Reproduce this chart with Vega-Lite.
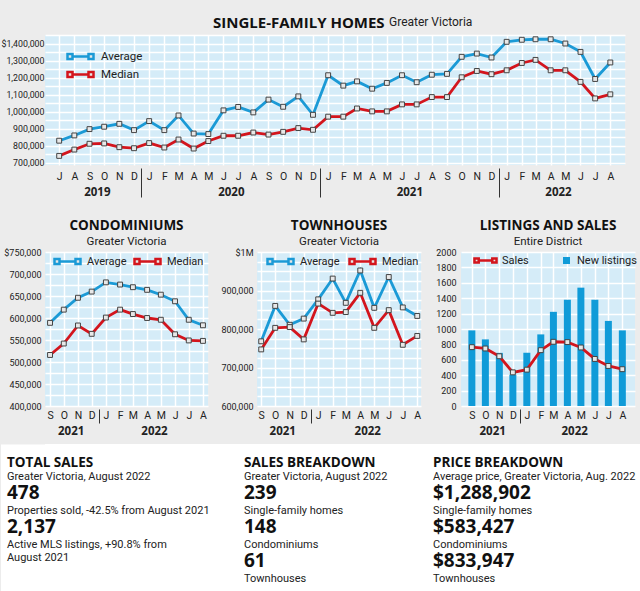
{
  "$schema": "https://vega.github.io/schema/vega-lite/v6.json",
  "background": "#ececec",
  "padding": {"top": 16, "left": 0, "right": 0, "bottom": 0},
  "config": {
    "font": "Roboto",
    "view": {"stroke": null, "fill": "#d5ecf8"},
    "axis": {"gridColor": "#ffffff", "gridWidth": 1.5, "gridOpacity": 1, "labelColor": "#222222", "labelFont": "Roboto", "labelOverlap": false},
    "legend": {"labelFont": "Roboto", "labelColor": "#222222"},
    "title": {"color": "#111111"}
  },
  "datasets": {
    "sf": [
      {"month": "2019-07-01", "Average": 830000, "Median": 741000},
      {"month": "2019-08-01", "Average": 861000, "Median": 778000},
      {"month": "2019-09-01", "Average": 898000, "Median": 812000},
      {"month": "2019-10-01", "Average": 912000, "Median": 814000},
      {"month": "2019-11-01", "Average": 929000, "Median": 792000},
      {"month": "2019-12-01", "Average": 892000, "Median": 786000},
      {"month": "2020-01-01", "Average": 945000, "Median": 816000},
      {"month": "2020-02-01", "Average": 892000, "Median": 790000},
      {"month": "2020-03-01", "Average": 978000, "Median": 837000},
      {"month": "2020-04-01", "Average": 872000, "Median": 784000},
      {"month": "2020-05-01", "Average": 869000, "Median": 828000},
      {"month": "2020-06-01", "Average": 1008000, "Median": 859000},
      {"month": "2020-07-01", "Average": 1028000, "Median": 859000},
      {"month": "2020-08-01", "Average": 996000, "Median": 878000},
      {"month": "2020-09-01", "Average": 1071000, "Median": 866000},
      {"month": "2020-10-01", "Average": 1029000, "Median": 882000},
      {"month": "2020-11-01", "Average": 1090000, "Median": 904000},
      {"month": "2020-12-01", "Average": 982000, "Median": 894000},
      {"month": "2021-01-01", "Average": 1214000, "Median": 971000},
      {"month": "2021-02-01", "Average": 1153000, "Median": 971000},
      {"month": "2021-03-01", "Average": 1178000, "Median": 1019000},
      {"month": "2021-04-01", "Average": 1135000, "Median": 1002000},
      {"month": "2021-05-01", "Average": 1169000, "Median": 1002000},
      {"month": "2021-06-01", "Average": 1214000, "Median": 1043000},
      {"month": "2021-07-01", "Average": 1173000, "Median": 1043000},
      {"month": "2021-08-01", "Average": 1217000, "Median": 1086000},
      {"month": "2021-09-01", "Average": 1222000, "Median": 1086000},
      {"month": "2021-10-01", "Average": 1322000, "Median": 1202000},
      {"month": "2021-11-01", "Average": 1341000, "Median": 1239000},
      {"month": "2021-12-01", "Average": 1318000, "Median": 1220000},
      {"month": "2022-01-01", "Average": 1410000, "Median": 1243000},
      {"month": "2022-02-01", "Average": 1422000, "Median": 1286000},
      {"month": "2022-03-01", "Average": 1425000, "Median": 1304000},
      {"month": "2022-04-01", "Average": 1425000, "Median": 1243000},
      {"month": "2022-05-01", "Average": 1400000, "Median": 1243000},
      {"month": "2022-06-01", "Average": 1351000, "Median": 1175000},
      {"month": "2022-07-01", "Average": 1192000, "Median": 1078000},
      {"month": "2022-08-01", "Average": 1288902, "Median": 1102000}
    ],
    "condo": [
      {"month": "2021-09-01", "Average": 589000, "Median": 516000},
      {"month": "2021-10-01", "Average": 619000, "Median": 542000},
      {"month": "2021-11-01", "Average": 646000, "Median": 583000},
      {"month": "2021-12-01", "Average": 660000, "Median": 564000},
      {"month": "2022-01-01", "Average": 681000, "Median": 601000},
      {"month": "2022-02-01", "Average": 676000, "Median": 619000},
      {"month": "2022-03-01", "Average": 670000, "Median": 609000},
      {"month": "2022-04-01", "Average": 664000, "Median": 600000},
      {"month": "2022-05-01", "Average": 653000, "Median": 596000},
      {"month": "2022-06-01", "Average": 638000, "Median": 563000},
      {"month": "2022-07-01", "Average": 596000, "Median": 549000},
      {"month": "2022-08-01", "Average": 583427, "Median": 548000}
    ],
    "town": [
      {"month": "2021-09-01", "Average": 768000, "Median": 747000},
      {"month": "2021-10-01", "Average": 860000, "Median": 803000},
      {"month": "2021-11-01", "Average": 811000, "Median": 805000},
      {"month": "2021-12-01", "Average": 827000, "Median": 773000},
      {"month": "2022-01-01", "Average": 877000, "Median": 866000},
      {"month": "2022-02-01", "Average": 931000, "Median": 842000},
      {"month": "2022-03-01", "Average": 868000, "Median": 844000},
      {"month": "2022-04-01", "Average": 952000, "Median": 894000},
      {"month": "2022-05-01", "Average": 855000, "Median": 803000},
      {"month": "2022-06-01", "Average": 935000, "Median": 849000},
      {"month": "2022-07-01", "Average": 856000, "Median": 759000},
      {"month": "2022-08-01", "Average": 833947, "Median": 782000}
    ],
    "listings": [
      {"month": "2021-09-01", "new_listings": 982, "sales": 764},
      {"month": "2021-10-01", "new_listings": 865, "sales": 747},
      {"month": "2021-11-01", "new_listings": 690, "sales": 646},
      {"month": "2021-12-01", "new_listings": 406, "sales": 437},
      {"month": "2022-01-01", "new_listings": 690, "sales": 472},
      {"month": "2022-02-01", "new_listings": 930, "sales": 725},
      {"month": "2022-03-01", "new_listings": 1223, "sales": 834},
      {"month": "2022-04-01", "new_listings": 1380, "sales": 830},
      {"month": "2022-05-01", "new_listings": 1537, "sales": 760},
      {"month": "2022-06-01", "new_listings": 1380, "sales": 611},
      {"month": "2022-07-01", "new_listings": 1105, "sales": 520},
      {"month": "2022-08-01", "new_listings": 982, "sales": 478}
    ],
    "facts": [
      {"panel": "total", "line": 1, "kind": "heading", "text": "TOTAL SALES"},
      {"panel": "total", "line": 2, "kind": "label", "text": "Greater Victoria, August 2022"},
      {"panel": "total", "line": 3, "kind": "figure", "text": "478"},
      {"panel": "total", "line": 4, "kind": "label", "text": "Properties sold, -42.5% from August 2021"},
      {"panel": "total", "line": 5, "kind": "figure", "text": "2,137"},
      {"panel": "total", "line": 6, "kind": "label", "text": "Active MLS listings, +90.8% from\nAugust 2021"},
      {"panel": "breakdown", "line": 1, "kind": "heading", "text": "SALES BREAKDOWN"},
      {"panel": "breakdown", "line": 2, "kind": "label", "text": "Greater Victoria, August 2022"},
      {"panel": "breakdown", "line": 3, "kind": "figure", "text": "239"},
      {"panel": "breakdown", "line": 4, "kind": "label", "text": "Single-family homes"},
      {"panel": "breakdown", "line": 5, "kind": "figure", "text": "148"},
      {"panel": "breakdown", "line": 6, "kind": "label", "text": "Condominiums"},
      {"panel": "breakdown", "line": 7, "kind": "figure", "text": "61"},
      {"panel": "breakdown", "line": 8, "kind": "label", "text": "Townhouses"},
      {"panel": "price", "line": 1, "kind": "heading", "text": "PRICE BREAKDOWN"},
      {"panel": "price", "line": 2, "kind": "label", "text": "Average price, Greater Victoria, Aug. 2022"},
      {"panel": "price", "line": 3, "kind": "figure", "text": "$1,288,902"},
      {"panel": "price", "line": 4, "kind": "label", "text": "Single-family homes"},
      {"panel": "price", "line": 5, "kind": "figure", "text": "$583,427"},
      {"panel": "price", "line": 6, "kind": "label", "text": "Condominiums"},
      {"panel": "price", "line": 7, "kind": "figure", "text": "$833,947"},
      {"panel": "price", "line": 8, "kind": "label", "text": "Townhouses"}
    ]
  },
  "resolve": {"scale": {"color": "independent", "fill": "independent", "stroke": "independent"}, "legend": {"color": "independent", "fill": "independent", "stroke": "independent"}},
  "spacing": 7,
  "vconcat": [
    {
      "title": {"text": "Greater Victoria", "anchor": "start", "frame": "bounds", "dx": 389, "dy": 13, "offset": 0, "baseline": "top", "font": "Roboto", "fontSize": 12, "fontWeight": "normal", "color": "#222222"},
      "spacing": 21,
      "resolve": {"scale": {"color": "independent", "fill": "independent", "stroke": "independent"}, "legend": {"color": "independent", "fill": "independent", "stroke": "independent"}},
      "vconcat": [
        {
          "width": 580,
          "height": 130,
          "data": {"name": "sf"},
          "transform": [{"fold": ["Average", "Median"], "as": ["series", "price"]}],
          "title": {"text": "SINGLE-FAMILY HOMES", "anchor": "start", "frame": "group", "dx": 168, "font": "Open Sans", "fontSize": 15, "fontWeight": "bold", "baseline": "top", "offset": 0},
          "encoding": {
            "y": {
              "field": "price", "type": "quantitative",
              "scale": {"domain": [687500, 1450000], "nice": false, "zero": false},
              "axis": {
                "title": null,
                "values": [700000, 750000, 800000, 850000, 900000, 950000, 1000000, 1050000, 1100000, 1150000, 1200000, 1250000, 1300000, 1350000, 1400000, 1450000],
                "labelExpr": "datum.value % 100000 != 0 ? '' : (datum.value == 1400000 ? '$1,400,000' : format(datum.value, ','))",
                "minExtent": 45, "maxExtent": 45, "ticks": false, "domain": false, "labelPadding": 1, "labelFontSize": 8.8, "labelOverlap": false
              }
            }
          },
          "layer": [
            {
              "mark": {"type": "line", "strokeWidth": 2.8},
              "encoding": {
                "x": {
                  "field": "month", "type": "temporal",
                  "scale": {"type": "utc", "domain": [{"year": 2019, "month": 6, "date": 2, "utc": true}, {"year": 2022, "month": 8, "date": 31, "utc": true}]},
                  "axis": {"orient": "bottom", "title": null, "tickCount": {"interval": "month", "step": 1}, "labelExpr": "substring(utcFormat(datum.value, '%b'), 0, 1)", "ticks": false, "domain": false, "grid": true, "labelPadding": 6, "labelFontSize": 10.5, "labelFlush": false, "labelOverlap": false, "labelBound": false}
                },
                "color": {
                  "field": "series", "type": "nominal",
                  "scale": {"domain": ["Average", "Median"], "range": ["#1b9ad6", "#d3151d"]},
                  "legend": {
                    "title": null, "orient": "none", "legendX": 29, "legendY": 15, "direction": "vertical", "padding": 0,
                    "symbolType": "M-1.6,0H1.6M-2.6,-0.5H-1.6V0.5H-2.6ZM1.6,-0.5H2.6V0.5H1.6Z",
                    "symbolSize": 100, "symbolStrokeWidth": 2.5, "symbolFillColor": "#e6e6e6", "labelOffset": 14, "labelFontSize": 11.5, "rowPadding": 3,
                    "encode": {"symbols": {"update": {"fill": {"value": "#e6e6e6"}}}}
                  }
                }
              }
            },
            {
              "mark": {"type": "point", "shape": "square", "size": 24, "filled": true, "fill": "#e8e8e8", "stroke": "#444444", "strokeWidth": 1, "opacity": 1},
              "encoding": {
                "x": {
                  "field": "month", "type": "temporal",
                  "scale": {"type": "utc", "domain": [{"year": 2019, "month": 6, "date": 2, "utc": true}, {"year": 2022, "month": 8, "date": 31, "utc": true}]},
                  "axis": {
                    "orient": "bottom", "title": null,
                    "values": [{"year": 2019, "month": 9, "date": 16, "utc": true}, {"year": 2019, "month": 12, "date": 16, "utc": true}, {"year": 2020, "month": 6, "date": 16, "utc": true}, {"year": 2020, "month": 12, "date": 16, "utc": true}, {"year": 2021, "month": 6, "date": 16, "utc": true}, {"year": 2021, "month": 12, "date": 16, "utc": true}, {"year": 2022, "month": 4, "date": 16, "utc": true}],
                    "labelExpr": "utcFormat(datum.value, '%m') == '12' ? '' : utcFormat(datum.value, '%Y')",
                    "grid": false, "domain": false, "offset": 3, "tickSize": 29, "tickColor": "#333333", "tickWidth": 1,
                    "tickOpacity": {"condition": {"test": "utcFormat(datum.value, '%m') == '12'", "value": 1}, "value": 0},
                    "labelPadding": -11, "labelFont": "Open Sans", "labelFontWeight": "bold", "labelFontSize": 11.5, "labelOverlap": false, "labelFlush": false
                  }
                }
              }
            }
          ],
          "resolve": {"axis": {"x": "independent"}}
        },
        {
          "spacing": 8,
          "resolve": {"scale": {"color": "independent", "fill": "independent", "stroke": "independent"}, "legend": {"color": "independent", "fill": "independent", "stroke": "independent"}},
          "hconcat": [
            {
              "width": 163,
              "height": 154,
              "data": {"name": "condo"},
              "transform": [{"fold": ["Average", "Median"], "as": ["series", "price"]}],
              "title": {"text": "CONDOMINIUMS", "subtitle": "Greater Victoria", "anchor": "middle", "frame": "group", "font": "Open Sans", "fontSize": 13.5, "fontWeight": "bold", "subtitleFont": "Roboto", "subtitleFontSize": 11.5, "subtitleColor": "#222222", "subtitlePadding": 3, "offset": 1, "baseline": "top"},
              "encoding": {
                "y": {
                  "field": "price", "type": "quantitative",
                  "scale": {"domain": [400000, 750000], "nice": false, "zero": false},
                  "axis": {"title": null, "values": [400000, 425000, 450000, 475000, 500000, 525000, 550000, 575000, 600000, 625000, 650000, 675000, 700000, 725000, 750000], "labelExpr": "datum.value % 50000 != 0 ? '' : (datum.value == 750000 ? '$750,000' : format(datum.value, ','))", "minExtent": 45, "maxExtent": 45, "ticks": false, "domain": false, "labelPadding": 4, "labelFontSize": 9, "labelOverlap": false}
                }
              },
              "layer": [
                {
                  "mark": {"type": "line", "strokeWidth": 2.8},
                  "encoding": {
                    "x": {
                      "field": "month", "type": "temporal",
                      "scale": {"type": "utc", "domain": [{"year": 2021, "month": 8, "date": 21, "utc": true}, {"year": 2022, "month": 8, "date": 12, "utc": true}]},
                      "axis": {"orient": "bottom", "title": null, "tickCount": {"interval": "month", "step": 1}, "labelExpr": "substring(utcFormat(datum.value, '%b'), 0, 1)", "ticks": false, "domain": false, "grid": true, "labelPadding": 4, "labelFontSize": 10.5, "labelFlush": false, "labelOverlap": false, "labelBound": false}
                    },
                    "color": {
                      "field": "series", "type": "nominal",
                      "scale": {"domain": ["Average", "Median"], "range": ["#1b9ad6", "#d3151d"]},
                      "legend": {
                        "title": null, "orient": "none", "legendX": 16, "legendY": 3, "direction": "horizontal", "padding": 0, "columnPadding": 2,
                        "symbolType": "M-1.6,0H1.6M-2.6,-0.5H-1.6V0.5H-2.6ZM1.6,-0.5H2.6V0.5H1.6Z",
                        "symbolSize": 100, "symbolStrokeWidth": 2.5, "symbolFillColor": "#e6e6e6", "labelOffset": 13, "labelFontSize": 11,
                        "encode": {"symbols": {"update": {"fill": {"value": "#e6e6e6"}}}}
                      }
                    }
                  }
                },
                {
                  "mark": {"type": "point", "shape": "square", "size": 24, "filled": true, "fill": "#e8e8e8", "stroke": "#444444", "strokeWidth": 1, "opacity": 1},
                  "encoding": {
                    "x": {
                      "field": "month", "type": "temporal",
                      "scale": {"type": "utc", "domain": [{"year": 2021, "month": 8, "date": 21, "utc": true}, {"year": 2022, "month": 8, "date": 12, "utc": true}]},
                      "axis": {"orient": "bottom", "title": null, "values": [{"year": 2021, "month": 10, "date": 16, "utc": true}, {"year": 2021, "month": 12, "date": 16, "utc": true}, {"year": 2022, "month": 4, "date": 16, "utc": true}], "labelExpr": "utcFormat(datum.value, '%m') == '12' ? '' : utcFormat(datum.value, '%Y')", "grid": false, "domain": false, "offset": 3, "tickSize": 14, "tickColor": "#333333", "tickOpacity": {"condition": {"test": "utcFormat(datum.value, '%m') == '12'", "value": 1}, "value": 0}, "labelPadding": 2, "labelFont": "Open Sans", "labelFontWeight": "bold", "labelFontSize": 11.5, "labelOverlap": false, "labelFlush": false}
                    }
                  }
                }
              ],
              "resolve": {"axis": {"x": "independent"}}
            },
            {
              "width": 164,
              "height": 154,
              "data": {"name": "town"},
              "transform": [{"fold": ["Average", "Median"], "as": ["series", "price"]}],
              "title": {"text": "TOWNHOUSES", "subtitle": "Greater Victoria", "anchor": "middle", "frame": "group", "font": "Open Sans", "fontSize": 13.5, "fontWeight": "bold", "subtitleFont": "Roboto", "subtitleFontSize": 11.5, "subtitleColor": "#222222", "subtitlePadding": 3, "offset": 1, "baseline": "top"},
              "encoding": {
                "y": {
                  "field": "price", "type": "quantitative",
                  "scale": {"domain": [600000, 1000000], "nice": false, "zero": false},
                  "axis": {"title": null, "values": [600000, 625000, 650000, 675000, 700000, 725000, 750000, 775000, 800000, 825000, 850000, 875000, 900000, 925000, 950000, 975000, 1000000], "labelExpr": "datum.value % 100000 != 0 ? '' : (datum.value == 1000000 ? '$1M' : format(datum.value, ','))", "minExtent": 40, "maxExtent": 40, "ticks": false, "domain": false, "labelPadding": 4, "labelFontSize": 9, "labelOverlap": false}
                }
              },
              "layer": [
                {
                  "mark": {"type": "line", "strokeWidth": 2.8},
                  "encoding": {
                    "x": {
                      "field": "month", "type": "temporal",
                      "scale": {"type": "utc", "domain": [{"year": 2021, "month": 8, "date": 23, "utc": true}, {"year": 2022, "month": 8, "date": 9, "utc": true}]},
                      "axis": {"orient": "bottom", "title": null, "tickCount": {"interval": "month", "step": 1}, "labelExpr": "substring(utcFormat(datum.value, '%b'), 0, 1)", "ticks": false, "domain": false, "grid": true, "labelPadding": 4, "labelFontSize": 10.5, "labelFlush": false, "labelOverlap": false, "labelBound": false}
                    },
                    "color": {
                      "field": "series", "type": "nominal",
                      "scale": {"domain": ["Average", "Median"], "range": ["#1b9ad6", "#d3151d"]},
                      "legend": {
                        "title": null, "orient": "none", "legendX": 17, "legendY": 3, "direction": "horizontal", "padding": 0, "columnPadding": 4,
                        "symbolType": "M-1.6,0H1.6M-2.6,-0.5H-1.6V0.5H-2.6ZM1.6,-0.5H2.6V0.5H1.6Z",
                        "symbolSize": 100, "symbolStrokeWidth": 2.5, "symbolFillColor": "#e6e6e6", "labelOffset": 13, "labelFontSize": 11,
                        "encode": {"symbols": {"update": {"fill": {"value": "#e6e6e6"}}}}
                      }
                    }
                  }
                },
                {
                  "mark": {"type": "point", "shape": "square", "size": 24, "filled": true, "fill": "#e8e8e8", "stroke": "#444444", "strokeWidth": 1, "opacity": 1},
                  "encoding": {
                    "x": {
                      "field": "month", "type": "temporal",
                      "scale": {"type": "utc", "domain": [{"year": 2021, "month": 8, "date": 23, "utc": true}, {"year": 2022, "month": 8, "date": 9, "utc": true}]},
                      "axis": {"orient": "bottom", "title": null, "values": [{"year": 2021, "month": 10, "date": 16, "utc": true}, {"year": 2021, "month": 12, "date": 16, "utc": true}, {"year": 2022, "month": 4, "date": 16, "utc": true}], "labelExpr": "utcFormat(datum.value, '%m') == '12' ? '' : utcFormat(datum.value, '%Y')", "grid": false, "domain": false, "offset": 3, "tickSize": 14, "tickColor": "#333333", "tickOpacity": {"condition": {"test": "utcFormat(datum.value, '%m') == '12'", "value": 1}, "value": 0}, "labelPadding": 2, "labelFont": "Open Sans", "labelFontWeight": "bold", "labelFontSize": 11.5, "labelOverlap": false, "labelFlush": false}
                    }
                  }
                }
              ],
              "resolve": {"axis": {"x": "independent"}}
            },
            {
              "width": 174,
              "height": 154,
              "data": {"name": "listings"},
              "title": {"text": "LISTINGS AND SALES", "subtitle": "Entire District", "anchor": "middle", "frame": "group", "font": "Open Sans", "fontSize": 13.5, "fontWeight": "bold", "subtitleFont": "Roboto", "subtitleFontSize": 11.5, "subtitleColor": "#222222", "subtitlePadding": 3, "offset": 1, "baseline": "top"},
              "layer": [
                {
                  "mark": {"type": "bar", "size": 7},
                  "encoding": {
                    "x": {
                      "field": "month", "type": "temporal",
                      "scale": {"type": "utc", "domain": [{"year": 2021, "month": 8, "date": 19, "utc": true}, {"year": 2022, "month": 8, "date": 18, "utc": true}]},
                      "axis": {"orient": "bottom", "title": null, "tickCount": {"interval": "month", "step": 1}, "labelExpr": "substring(utcFormat(datum.value, '%b'), 0, 1)", "ticks": false, "domain": false, "grid": true, "labelPadding": 4, "labelFontSize": 10.5, "labelFlush": false, "labelOverlap": false, "labelBound": false}
                    },
                    "y": {
                      "field": "new_listings", "type": "quantitative",
                      "scale": {"domain": [0, 2000], "nice": false},
                      "axis": {"title": null, "values": [0, 200, 400, 600, 800, 1000, 1200, 1400, 1600, 1800, 2000], "format": "d", "minExtent": 30, "maxExtent": 30, "ticks": false, "domain": false, "labelPadding": 5, "labelFontSize": 9, "labelOverlap": false}
                    },
                    "fill": {
                      "datum": "New listings", "type": "nominal",
                      "scale": {"range": ["#109bd8"]},
                      "legend": {"title": null, "orient": "none", "legendX": 100, "legendY": 3, "padding": 0, "symbolType": "square", "symbolSize": 49, "labelOffset": 5, "labelFontSize": 11}
                    }
                  }
                },
                {
                  "mark": {"type": "line", "strokeWidth": 2.8},
                  "encoding": {
                    "x": {
                      "field": "month", "type": "temporal",
                      "scale": {"type": "utc", "domain": [{"year": 2021, "month": 8, "date": 19, "utc": true}, {"year": 2022, "month": 8, "date": 18, "utc": true}]},
                      "axis": {"orient": "bottom", "title": null, "values": [{"year": 2021, "month": 10, "date": 16, "utc": true}, {"year": 2021, "month": 12, "date": 16, "utc": true}, {"year": 2022, "month": 4, "date": 16, "utc": true}], "labelExpr": "utcFormat(datum.value, '%m') == '12' ? '' : utcFormat(datum.value, '%Y')", "grid": false, "domain": false, "offset": 3, "tickSize": 14, "tickColor": "#333333", "tickOpacity": {"condition": {"test": "utcFormat(datum.value, '%m') == '12'", "value": 1}, "value": 0}, "labelPadding": 2, "labelFont": "Open Sans", "labelFontWeight": "bold", "labelFontSize": 11.5, "labelOverlap": false, "labelFlush": false}
                    },
                    "y": {
                      "field": "sales", "type": "quantitative",
                      "scale": {"domain": [0, 2000], "nice": false},
                      "axis": null
                    },
                    "stroke": {
                      "datum": "Sales", "type": "nominal",
                      "scale": {"range": ["#d3151d"]},
                      "legend": {
                        "title": null, "orient": "none", "legendX": 19, "legendY": 3, "padding": 0,
                        "symbolType": "M-1.6,0H1.6M-2.6,-0.5H-1.6V0.5H-2.6ZM1.6,-0.5H2.6V0.5H1.6Z",
                        "symbolSize": 72, "symbolStrokeWidth": 2.5, "symbolFillColor": "#e6e6e6", "labelOffset": 11, "labelFontSize": 11,
                        "encode": {"symbols": {"update": {"fill": {"value": "#e6e6e6"}}}}
                      }
                    }
                  }
                },
                {
                  "mark": {"type": "point", "shape": "square", "size": 24, "filled": true, "fill": "#e8e8e8", "stroke": "#444444", "strokeWidth": 1, "opacity": 1},
                  "encoding": {
                    "x": {
                      "field": "month", "type": "temporal",
                      "scale": {"type": "utc", "domain": [{"year": 2021, "month": 8, "date": 19, "utc": true}, {"year": 2022, "month": 8, "date": 18, "utc": true}]},
                      "axis": null
                    },
                    "y": {"field": "sales", "type": "quantitative", "scale": {"domain": [0, 2000], "nice": false}, "axis": null}
                  }
                }
              ],
              "resolve": {"axis": {"x": "independent", "y": "independent"}}
            }
          ]
        }
      ]
    },
    {
      "spacing": 0,
      "hconcat": [
        {
          "width": 192,
          "height": 149,
          "view": {"fill": "#ffffff", "stroke": null},
          "data": {"name": "facts"},
          "transform": [{"filter": "datum.panel == 'total'"}],
          "encoding": {
            "x": {"field": "panel", "type": "nominal", "scale": {"type": "band", "paddingInner": 0, "paddingOuter": 0}, "bandPosition": 0, "axis": null},
            "y": {"field": "line", "type": "quantitative", "scale": {"domain": [0, 8.765], "reverse": true, "nice": false, "zero": false}, "axis": {"title": null, "labels": false, "ticks": false, "grid": false, "domain": true, "domainColor": "#ffffff", "domainWidth": 89, "domainCap": "butt"}},
            "text": {"field": "text"}
          },
          "layer": [
            {"transform": [{"filter": "datum.kind == 'heading'"}], "mark": {"type": "text", "align": "left", "baseline": "middle", "dx": -38, "dy": 2, "font": "Open Sans", "fontSize": 13.5, "fontWeight": "bold", "color": "#111111"}},
            {"transform": [{"filter": "datum.kind == 'figure'"}], "mark": {"type": "text", "align": "left", "baseline": "middle", "dx": -38, "dy": -2, "font": "Open Sans", "fontSize": 19, "fontWeight": "bold", "color": "#111111"}},
            {"transform": [{"filter": "datum.kind == 'label'"}], "mark": {"type": "text", "align": "left", "baseline": "top", "dx": -38, "dy": -7, "lineBreak": "\n", "lineHeight": 13, "fontSize": 11, "color": "#222222"}}
          ]
        },
        {
          "width": 189,
          "height": 149,
          "view": {"fill": "#ffffff", "stroke": null},
          "data": {"name": "facts"},
          "transform": [{"filter": "datum.panel == 'breakdown'"}],
          "encoding": {
            "x": {"field": "panel", "type": "nominal", "scale": {"type": "band", "paddingInner": 0, "paddingOuter": 0}, "bandPosition": 0, "axis": null},
            "y": {"field": "line", "type": "quantitative", "scale": {"domain": [0, 8.765], "reverse": true, "nice": false, "zero": false}, "axis": null},
            "text": {"field": "text"}
          },
          "layer": [
            {"transform": [{"filter": "datum.kind == 'heading'"}], "mark": {"type": "text", "align": "left", "baseline": "middle", "dx": 7, "dy": 2, "font": "Open Sans", "fontSize": 13.5, "fontWeight": "bold", "color": "#111111"}},
            {"transform": [{"filter": "datum.kind == 'figure'"}], "mark": {"type": "text", "align": "left", "baseline": "middle", "dx": 7, "dy": -2, "font": "Open Sans", "fontSize": 19, "fontWeight": "bold", "color": "#111111"}},
            {"transform": [{"filter": "datum.kind == 'label'"}], "mark": {"type": "text", "align": "left", "baseline": "top", "dx": 7, "dy": -7, "lineBreak": "\n", "lineHeight": 13, "fontSize": 11, "color": "#222222"}}
          ]
        },
        {
          "width": 214,
          "height": 149,
          "view": {"fill": "#ffffff", "stroke": null},
          "data": {"name": "facts"},
          "transform": [{"filter": "datum.panel == 'price'"}],
          "encoding": {
            "x": {"field": "panel", "type": "nominal", "scale": {"type": "band", "paddingInner": 0, "paddingOuter": 0}, "bandPosition": 0, "axis": null},
            "y": {"field": "line", "type": "quantitative", "scale": {"domain": [0, 8.765], "reverse": true, "nice": false, "zero": false}, "axis": null},
            "text": {"field": "text"}
          },
          "layer": [
            {"transform": [{"filter": "datum.kind == 'heading'"}], "mark": {"type": "text", "align": "left", "baseline": "middle", "dx": 7, "dy": 2, "font": "Open Sans", "fontSize": 13.5, "fontWeight": "bold", "color": "#111111"}},
            {"transform": [{"filter": "datum.kind == 'figure'"}], "mark": {"type": "text", "align": "left", "baseline": "middle", "dx": 7, "dy": -2, "font": "Open Sans", "fontSize": 19, "fontWeight": "bold", "color": "#111111"}},
            {"transform": [{"filter": "datum.kind == 'label'"}], "mark": {"type": "text", "align": "left", "baseline": "top", "dx": 7, "dy": -7, "lineBreak": "\n", "lineHeight": 13, "fontSize": 11, "color": "#222222"}}
          ]
        }
      ]
    }
  ]
}
